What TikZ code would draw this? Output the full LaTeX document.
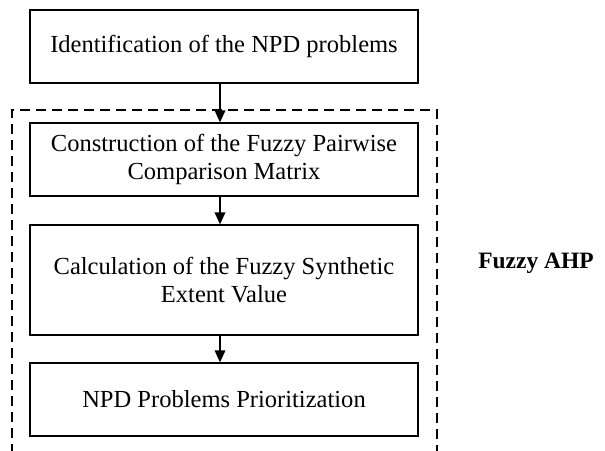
\documentclass[tikz,border=0pt]{standalone}
\usepackage{fontspec}
\setmainfont{Liberation Serif}
\usetikzlibrary{arrows.meta}

\tikzset{
	stagebox/.style={draw, line width=1pt, minimum width=388*0.75pt, align=center,
		inner sep=0pt, font=\fontsize{18.4}{21}\selectfont},
	flow/.style={line width=1pt, -{Triangle[length=9pt, width=8pt]}},
	groupframe/.style={line width=1pt, dash pattern=on 7.5pt off 4.5pt}
}

\begin{document}
\begin{tikzpicture}[x=0.75pt, y=-0.75pt]
				\useasboundingbox (0,0) rectangle (605,450);

				% fuzzy AHP frame (runs past the bottom edge)
				\draw[groupframe] (12,470) -- (12,110) -- (437,110) -- (437,470);

				\node[stagebox, minimum height=73*0.75pt] (ident) at (224,46.5) {Identification of the NPD problems};
				\node[stagebox, minimum height=73*0.75pt] (pairwise) at (224,159.5) {Construction of the Fuzzy Pairwise\\Comparison Matrix};
				\node[stagebox, minimum height=110*0.75pt] (extent) at (224,280) {Calculation of the Fuzzy Synthetic\\Extent Value};
				\node[stagebox, minimum height=73*0.75pt] (prior) at (224,399.5) {NPD Problems Prioritization};

				\node[font=\fontsize{17.6}{21}\selectfont\bfseries] (ahp) at (536,263) {Fuzzy AHP};

				\draw[flow] ([xshift=-3pt]ident.south) -- ([xshift=-3pt]pairwise.north);
				\draw[flow] ([xshift=-3pt]pairwise.south) -- ([xshift=-3pt]extent.north);
				\draw[flow] ([xshift=-3pt]extent.south) -- ([xshift=-3pt]prior.north);
			\end{tikzpicture}
\end{document}
